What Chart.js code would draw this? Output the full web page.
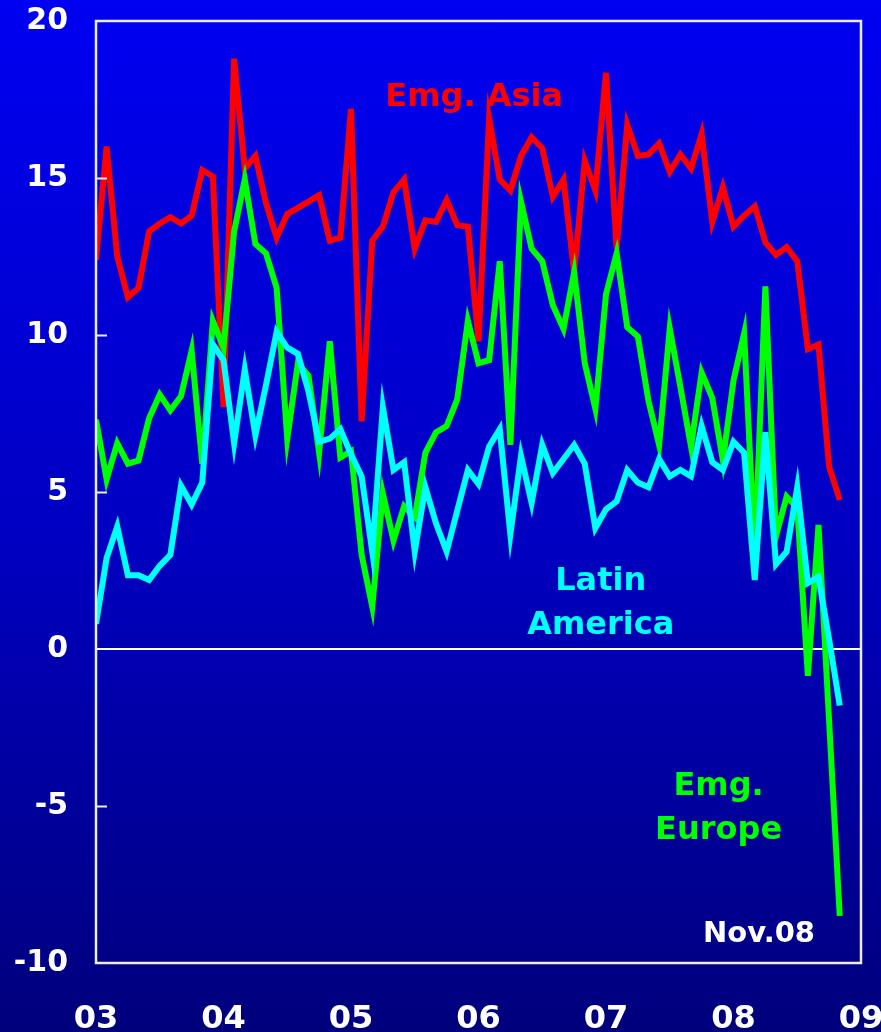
<!DOCTYPE html>
<html>
<head>
<meta charset="utf-8">
<script src="https://cdn.jsdelivr.net/npm/chart.js@4.4.1/dist/chart.umd.min.js"></script>
<style>
  html, body { margin: 0; padding: 0; background: #0000b4; }
  #wrap {
    position: relative;
    width: 881px;
    height: 1032px;
    background: linear-gradient(to bottom, #0000f2 0%, #0000c4 50%, #00007c 100%);
  }
  canvas { display: block; }
</style>
</head>
<body>
<div id="wrap"><canvas id="chart" width="881" height="1032"></canvas></div>
<script>
// Monthly readings, Jan 2003 (index 0) to Nov 2008 (index 70)
const yearLabels = ['03', '04', '05', '06', '07', '08', '09'];
const yTickValues = [20, 15, 10, 5, 0, -5, -10];

const emgAsia = [
  12.4, 16.0, 12.5, 11.2, 11.5, 13.3, 13.55, 13.75, 13.55, 13.8, 15.25, 15.05,
  7.7, 18.8, 15.3, 15.7, 14.2, 13.1, 13.85, 14.05, 14.25, 14.45, 13.0, 13.1,
  17.2, 7.25, 13.0, 13.45, 14.55, 14.95, 12.75, 13.65, 13.6, 14.3, 13.5, 13.45,
  9.8, 16.9, 14.95, 14.6, 15.7, 16.3, 15.95, 14.4, 14.95, 12.0, 15.55, 14.6,
  18.35, 12.75, 16.7, 15.7, 15.75, 16.1, 15.2, 15.75, 15.3, 16.4, 13.6, 14.7,
  13.45, 13.8, 14.1, 12.95, 12.55, 12.8, 12.35, 9.55, 9.7, 5.8, 4.75
];

const emgEurope = [
  7.3, 5.4, 6.55, 5.9, 6.0, 7.35, 8.1, 7.6, 8.05, 9.5, 5.9, 10.45,
  9.6, 13.3, 14.95, 12.9, 12.6, 11.5, 6.7, 9.1, 8.7, 6.25, 9.8, 6.1,
  6.3, 3.0, 1.35, 4.95, 3.45, 4.55, 4.2, 6.25, 6.9, 7.1, 7.95, 10.45,
  9.1, 9.2, 12.35, 6.5, 14.25, 12.75, 12.35, 10.95, 10.2, 12.0, 9.1, 7.65,
  11.3, 12.6, 10.25, 9.95, 7.9, 6.5, 10.2, 8.35, 6.45, 8.8, 8.0, 6.0,
  8.55, 10.05, 3.05, 11.55, 3.6, 4.85, 4.5, -0.85, 3.95, -2.3, -8.5
];

const latinAmerica = [
  0.8, 2.9, 3.9, 2.35, 2.35, 2.2, 2.65, 3.0, 5.2, 4.6, 5.3, 9.7,
  9.2, 6.55, 8.9, 6.8, 8.4, 10.1, 9.6, 9.4, 8.2, 6.6, 6.7, 7.0,
  6.2, 5.5, 3.1, 7.7, 5.7, 5.95, 3.1, 5.15, 4.0, 3.1, 4.4, 5.7,
  5.25, 6.45, 7.0, 3.65, 6.15, 4.65, 6.5, 5.6, 6.05, 6.5, 5.9, 3.85,
  4.45, 4.7, 5.7, 5.3, 5.15, 6.05, 5.5, 5.7, 5.5, 7.1, 5.95, 5.7,
  6.6, 6.25, 2.2, 6.9, 2.7, 3.1, 5.15, 2.1, 2.3, 0.3, -1.8
];

const seriesNames = ['Emg. Asia', 'Latin America', 'Emg. Europe'];

const toPoints = arr => arr.map((v, i) => ({ x: i, y: v }));

// Series captions placed in data units (month index, value)
const captions = [
  { lines: ['Emg. Asia'], x: 35.6, y: 17.55, color: '#ff0000', size: 32 },
  { lines: ['Latin', 'America'], x: 47.5, y: 2.15, color: '#00ffff', size: 32 },
  { lines: ['Emg.', 'Europe'], x: 58.6, y: -4.4, color: '#00ff00', size: 32 },
  { lines: ['Nov.08'], x: 62.4, y: -9.1, color: '#ffffff', size: 29 }
];

const FONT = "'DejaVu Sans', Verdana, sans-serif";

const framePlugin = {
  id: 'frame',
  afterDraw(chart) {
    const { ctx, chartArea: a, scales } = chart;
    ctx.save();
    ctx.strokeStyle = '#ececf4';
    ctx.lineWidth = 2.5;
    ctx.strokeRect(a.left, a.top, a.right - a.left, a.bottom - a.top);
    // short inward tick marks on the value axis
    ctx.lineWidth = 2;
    scales.y.ticks.forEach(t => {
      if (t.value === 0 || t.value === scales.y.max || t.value === scales.y.min) return;
      const py = Math.round(scales.y.getPixelForValue(t.value)) + 0.5;
      ctx.beginPath();
      ctx.moveTo(a.left, py);
      ctx.lineTo(a.left + 11, py);
      ctx.stroke();
    });
    ctx.restore();
  }
};

const captionPlugin = {
  id: 'captions',
  afterDatasetsDraw(chart) {
    const { ctx, scales } = chart;
    ctx.save();
    ctx.textAlign = 'center';
    ctx.textBaseline = 'middle';
    captions.forEach(c => {
      ctx.fillStyle = c.color;
      ctx.font = `bold ${c.size}px ${FONT}`;
      const cx = scales.x.getPixelForValue(c.x);
      const cy = scales.y.getPixelForValue(c.y);
      c.lines.forEach((line, i) => ctx.fillText(line, cx, cy + i * 44));
    });
    ctx.restore();
  }
};

new Chart(document.getElementById('chart'), {
  type: 'line',
  data: {
    datasets: [
      { label: seriesNames[1], data: toPoints(latinAmerica), borderColor: '#00ffff' },
      { label: seriesNames[2], data: toPoints(emgEurope), borderColor: '#00ff00' },
      { label: seriesNames[0], data: toPoints(emgAsia), borderColor: '#ff0000' }
    ]
  },
  options: {
    responsive: false,
    animation: false,
    devicePixelRatio: 1,
    elements: {
      line: { borderWidth: 6, tension: 0, borderJoinStyle: 'miter', fill: false },
      point: { radius: 0, hoverRadius: 0 }
    },
    layout: { padding: { top: 21, right: 20, left: 0, bottom: 0 } },
    plugins: {
      legend: { display: false },
      tooltip: { enabled: false }
    },
    scales: {
      x: {
        type: 'linear',
        min: 0,
        max: 72,
        grid: { display: false },
        border: { display: false },
        ticks: {
          stepSize: 12,
          autoSkip: false,
          maxRotation: 0,
          color: '#ffffff',
          padding: 29,
          font: { family: FONT, weight: 'bold', size: 32 },
          callback: v => yearLabels[Math.round(v / 12)]
        },
        afterFit(scale) {
          scale.height = 69;
          scale.paddingLeft = 0;
          scale.paddingRight = 0;
        }
      },
      y: {
        min: -10,
        max: 20,
        afterBuildTicks(scale) {
          scale.ticks = yTickValues.map(v => ({ value: v }));
        },
        grid: {
          drawTicks: false,
          lineWidth: 2,
          color: c => (c.tick && c.tick.value === 0 ? '#ffffff' : 'rgba(0,0,0,0)')
        },
        border: { display: false },
        ticks: {
          color: '#ffffff',
          padding: 28,
          font: { family: FONT, weight: 'bold', size: 30 },
          callback: v => String(v)
        },
        afterFit(scale) {
          scale.width = 96;
          scale.paddingTop = 0;
          scale.paddingBottom = 0;
        }
      }
    }
  },
  plugins: [framePlugin, captionPlugin]
});
</script>
</body>
</html>
